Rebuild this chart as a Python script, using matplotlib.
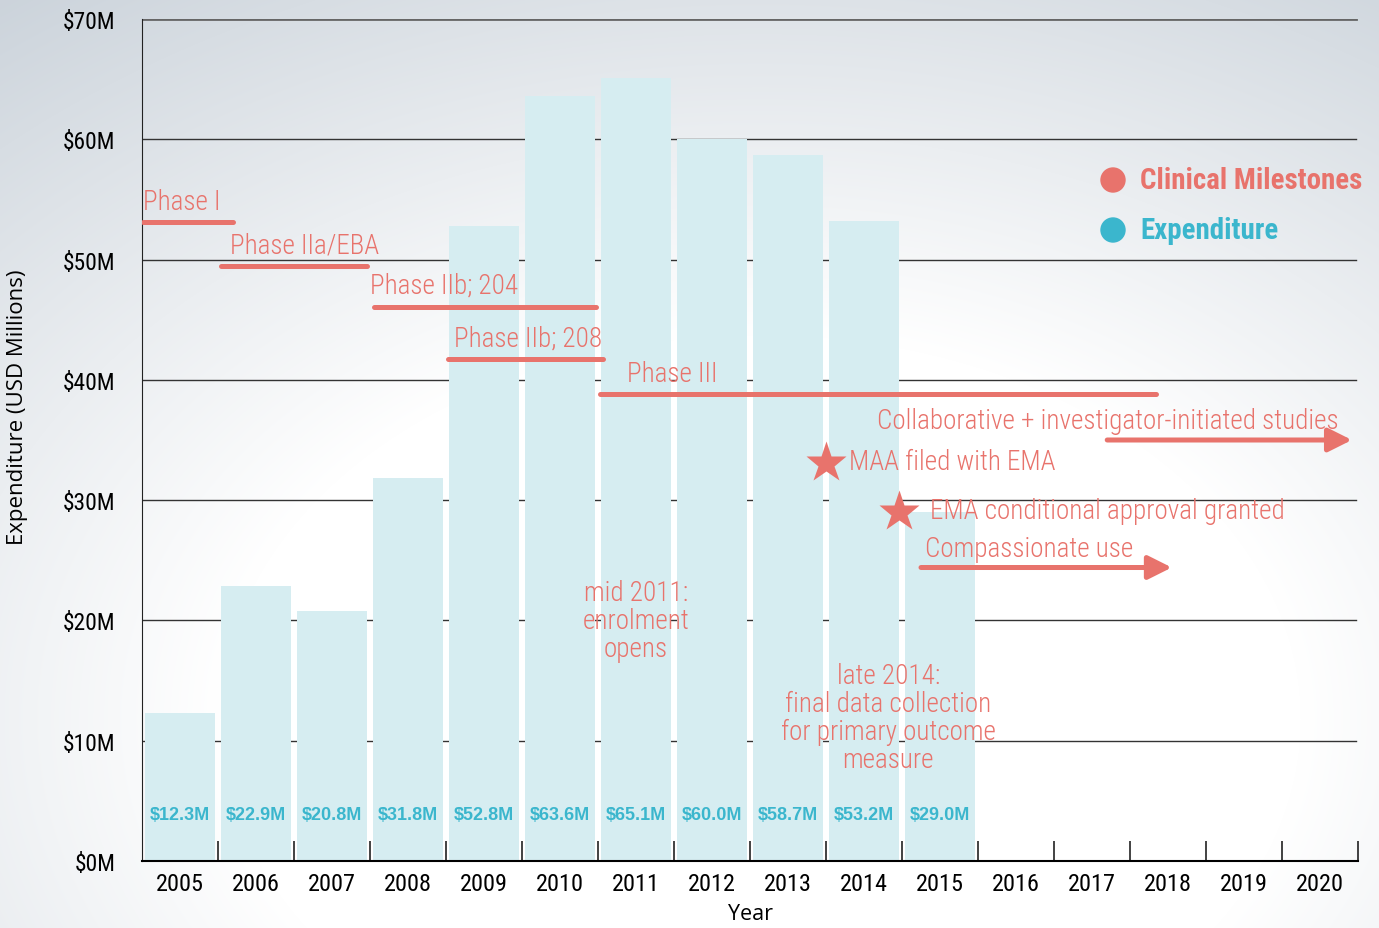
import numpy as np
import matplotlib
matplotlib.use('Agg')
import matplotlib.pyplot as plt
from matplotlib import font_manager
from matplotlib.patches import Ellipse

# data
years = [str(y) for y in range(2005, 2021)]
spend = [12.3, 22.9, 20.8, 31.8, 52.8, 63.6, 65.1, 60.0, 58.7, 53.2, 29.0]
spend_labels = ['$12.3M', '$22.9M', '$20.8M', '$31.8M', '$52.8M', '$63.6M',
                '$65.1M', '$60.0M', '$58.7M', '$53.2M', '$29.0M']
yticks = [0, 10, 20, 30, 40, 50, 60, 70]
ytick_labels = ['$0M', '$10M', '$20M', '$30M', '$40M', '$50M', '$60M', '$70M']

# phase bars: (label, text x, text y, line start, line end, line y)
phases = [
    ('Phase I', -0.49, 54.8, -0.49, 0.70, 53.1),
    ('Phase IIa/EBA', 0.66, 51.2, 0.54, 2.46, 49.5),
    ('Phase IIb; 204', 2.50, 47.9, 2.55, 5.47, 46.05),
    ('Phase IIb; 208', 3.60, 43.5, 3.53, 5.57, 41.7),
    ('Phase III', 5.88, 40.5, 5.53, 12.84, 38.8),
]
# ongoing arrows: (label, text x, text y, arrow start, arrow end, arrow y)
arrows = [
    ('Collaborative + investigator-initiated studies', 9.17, 36.6, 12.20, 15.42, 35.0),
    ('Compassionate use', 9.80, 26.0, 9.75, 13.05, 24.4),
]
# star events: (label, star x, star y, text x)
stars = [
    ('MAA filed with EMA', 8.50, 33.1, 8.80),
    ('EMA conditional approval granted', 9.46, 29.0, 9.87),
]
notes = [
    ('mid 2011:\nenrolment\nopens', 6.0, 20.0),
    ('late 2014:\nfinal data collection\nfor primary outcome\nmeasure', 9.32, 11.9),
]

salmon = '#e8736c'
teal = '#3bb6cd'
barcol = '#d6edf1'

available = {f.name for f in font_manager.fontManager.ttflist}
prefs = ['Roboto Condensed', 'Barlow Condensed', 'Sofia Sans Condensed',
         'Pathway Gothic One', 'Liberation Sans Narrow', 'DejaVu Sans']
cond = [next(n for n in prefs if n in available), 'DejaVu Sans']
plain = ['Open Sans', 'DejaVu Sans']
boldf = ['Liberation Sans', 'DejaVu Sans']

W, H = 1379, 929
fig = plt.figure(figsize=(W / 100, H / 100), dpi=100)
renderer = fig.canvas.get_renderer()


def fit(txt, target, **kw):
    # font size that gives the text the width seen in the reference
    t = fig.text(0, 0, txt, fontsize=10, **kw)
    w = t.get_window_extent(renderer).width
    t.remove()
    return 10 * target / w


fs_tick = fit('2005', 43, family=cond) * 1.1
fs_ytick = fit('$70M', 48, family=cond) * 1.1
fs_note = fit('Collaborative + investigator-initiated studies', 444, family=cond, fontweight='light') * 1.04
fs_leg = fit('Clinical Milestones', 222, family=cond, fontweight='bold')
fs_val = fit('$12.3M', 60, family=boldf, fontweight='bold')

# background gradient
bg = fig.add_axes([0, 0, 1, 1], zorder=-10)
xx, yy = np.meshgrid(np.arange(W), np.arange(H))
d = np.sqrt(((xx - 760) / 900.0) ** 2 + ((yy - 720) / 640.0) ** 2)
t = np.clip((d - 0.6) / 0.8, 0, 1)[..., None]
dark = np.array([0.80, 0.83, 0.86])
img = (1 - t) * np.array([1.0, 1.0, 1.0]) + t * dark
bg.imshow(img, aspect='auto', extent=[0, 1, 0, 1], origin='upper')
bg.axis('off')

ax = fig.add_axes([142 / W, 1 - 862 / H, 1216 / W, 842 / H])
ax.patch.set_alpha(0)

x = np.arange(len(spend))
ax.bar(x, spend, width=0.91, color=barcol, zorder=2)
for xi, lab in zip(x, spend_labels):
    ax.text(xi, 3.9, lab, ha='center', va='center', color=teal, fontsize=fs_val,
            fontweight='bold', family=boldf, zorder=5)

ax.set_xlim(-0.5, 15.5)
ax.set_ylim(0, 70)
for yv in yticks[1:]:
    ax.axhline(yv, xmin=0, xmax=0.998, color='#333333' if yv < 70 else '#666666',
               lw=1.0 if yv < 70 else 2.0, zorder=1)

ax.set_yticks(yticks)
ax.set_yticklabels(ytick_labels, family=cond, fontsize=fs_ytick)
ax.tick_params(axis='y', length=0, pad=19)
ax.set_xticks(np.arange(16) + 0.5)
ax.set_xticklabels([])
ax.set_xticks(np.arange(16), minor=True)
ax.set_xticklabels(years, minor=True, family=cond, fontsize=fs_tick)
ax.tick_params(axis='x', which='major', direction='in', length=14.5, width=1.2, color='#222222')
ax.tick_params(axis='x', which='minor', length=0, pad=8)
for s in ['top', 'right']:
    ax.spines[s].set_visible(False)
ax.spines['left'].set_color('#222222')
ax.spines['bottom'].set_linewidth(1.5)
ax.set_xlabel('Year', family=plain, fontsize=15.5, labelpad=6)
ax.set_ylabel('Expenditure (USD Millions)', family=plain, fontsize=16)
ax.yaxis.set_label_coords(-0.094, 0.54)

# milestones
txt_kw = dict(color=salmon, fontsize=fs_note, family=cond, fontweight='light', zorder=5)
for lab, tx, ty, x0, x1, ly in phases:
    ax.plot([x0, x1], [ly, ly], color=salmon, lw=3.6, solid_capstyle='round', zorder=4)
    ax.text(tx, ty, lab, va='center', **txt_kw)

for lab, tx, ty, x0, x1, ly in arrows:
    ax.annotate('', xy=(x1, ly), xytext=(x0, ly),
                arrowprops=dict(arrowstyle='-|>,head_length=1.1,head_width=0.55',
                                color=salmon, lw=3.6, mutation_scale=13,
                                shrinkA=0, shrinkB=0, capstyle='round'), zorder=4)
    ax.text(tx, ty, lab, va='center', **txt_kw)

for lab, sx, sy, tx in stars:
    ax.plot(sx, sy, marker='*', color=salmon, markersize=31, mec='none', zorder=5)
    ax.text(tx, sy + 0.1, lab, va='center', **txt_kw)

for lab, nx, ny in notes:
    ax.text(nx, ny, lab, ha='center', va='center', linespacing=1.05, **txt_kw)

# legend
for lab, col, py in [('Clinical Milestones', salmon, 181), ('Expenditure', teal, 231)]:
    fig.add_artist(Ellipse((1113 / W, 1 - py / H), 24 / W, 24 / H,
                           transform=fig.transFigure, color=col))
    fig.text(1140 / W, 1 - py / H, lab, color=col, fontsize=fs_leg, fontweight='bold',
             family=cond, va='center')

fig.savefig('out.png', dpi=100)
